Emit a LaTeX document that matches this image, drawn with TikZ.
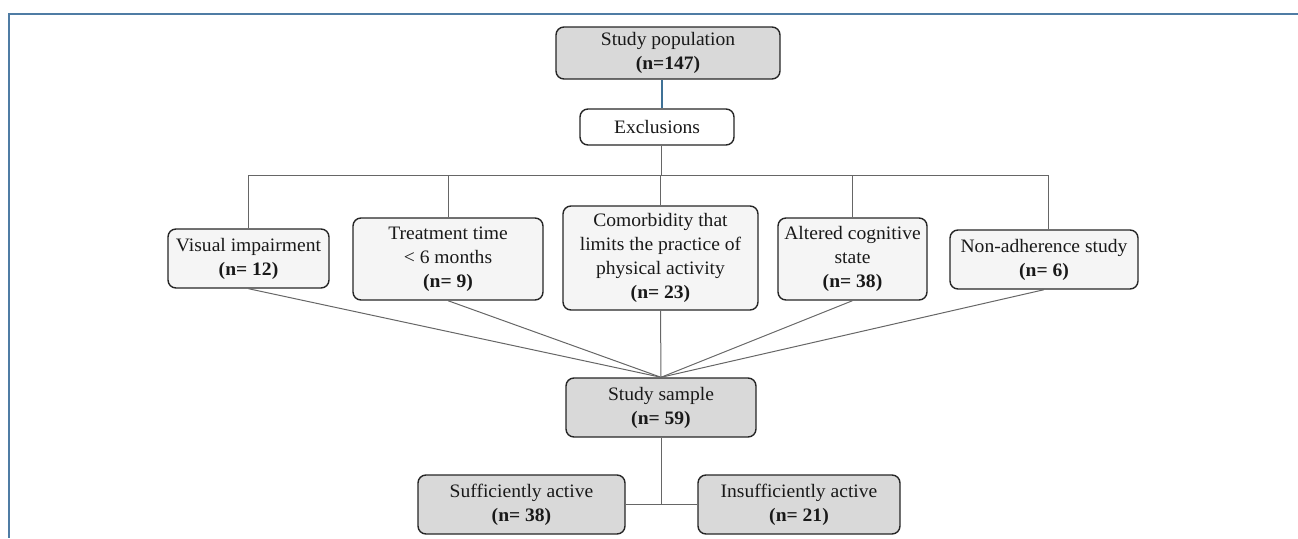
\documentclass[tikz,border=0pt]{standalone}
\usepackage{fontspec}
\setmainfont{Liberation Serif}[FakeStretch=1.03]
\definecolor{boxline}{HTML}{262626}
\definecolor{darkfill}{HTML}{D9D9D9}
\definecolor{lightfill}{HTML}{F5F5F5}
\definecolor{conn}{HTML}{666666}
\definecolor{frame}{HTML}{4F7CA4}
\definecolor{blueconn}{HTML}{3F7196}
\begin{document}
\begin{tikzpicture}[x=1pt,y=-1pt,
  box/.style={draw=boxline, line width=1.4pt, rounded corners=8pt, align=center,
    font=\fontsize{19}{24}\selectfont, inner sep=0pt, text=black!90},
  darkbox/.style={box, fill=darkfill},
  lightbox/.style={box, fill=lightfill},
  whitebox/.style={box, fill=white},
  link/.style={draw=conn, line width=1pt},
  framelink/.style={draw=frame, line width=2pt}]
\useasboundingbox (0,0) rectangle (1298,538);
% frame
\coordinate (fTR) at (1298,14);
\coordinate (fTL) at (9,14);
\coordinate (fBL) at (9,538);
\draw[framelink] (fTR) -- (fTL) -- (fBL);

\node[darkbox, minimum width=224pt, minimum height=52pt] (pop) at (668,53)
  {Study population\\\textbf{(n=147)}};
\node[whitebox, minimum width=154pt, minimum height=36pt] (excl) at (657,127)
  {Exclusions};

\node[lightbox, minimum width=161pt, minimum height=59pt] (vis) at (248.5,258.5)
  {Visual impairment\\\textbf{(n= 12)}};
\node[lightbox, minimum width=190pt, minimum height=82pt] (treat) at (448,259)
  {Treatment time\\< 6 months\\\textbf{(n= 9)}};
\node[lightbox, minimum width=195pt, minimum height=104pt] (como) at (660.5,258)
  {Comorbidity that\\limits the practice of\\physical activity\\\textbf{(n= 23)}};
\node[lightbox, minimum width=149pt, minimum height=82pt] (alt) at (852.5,259)
  {Altered cognitive\\state\\\textbf{(n= 38)}};
\node[lightbox, minimum width=188pt, minimum height=59pt] (nonad) at (1044,259.5)
  {Non-adherence study\\\textbf{(n= 6)}};

\node[darkbox, minimum width=190pt, minimum height=59pt] (sample) at (661,407.5)
  {Study sample\\\textbf{(n= 59)}};
\node[darkbox, minimum width=207pt, minimum height=59pt] (suff) at (521.5,504.5)
  {Sufficiently active\\\textbf{(n= 38)}};
\node[darkbox, minimum width=202pt, minimum height=59pt] (insuff) at (799,504.5)
  {Insufficiently active\\\textbf{(n= 21)}};

% top connectors
\draw[draw=blueconn, line width=1.2pt] ([xshift=-6pt]pop.south) -- ([xshift=-6pt]pop.south |- excl.north);
\coordinate (barL) at (248.5,175);
\coordinate (barR) at (1048,175);
\draw[link] ([xshift=4pt]excl.south) -- ([xshift=4pt]excl.south |- barL);
\draw[link] (barL) -- (barR);
\draw[link] (vis.north) -- (vis.north |- barL);
\draw[link] (treat.north) -- (treat.north |- barL);
\draw[link] (como.north) -- (como.north |- barL);
\draw[link] (alt.north) -- (alt.north |- barL);
\draw[link] ([xshift=4pt]nonad.north) -- ([xshift=4pt]nonad.north |- barL);

% converging connectors
\draw[link] (vis.south) -- (sample.north);
\draw[link] (treat.south) -- (sample.north);
\draw[link] (como.south) -- (sample.north);
\draw[link] (alt.south) -- (sample.north);
\draw[link] (nonad.south) -- (sample.north);

% split
\draw[link] (sample.south) -- (sample.south |- suff.east);
\draw[link] (suff.east) -- (insuff.west);
\end{tikzpicture}
\end{document}
